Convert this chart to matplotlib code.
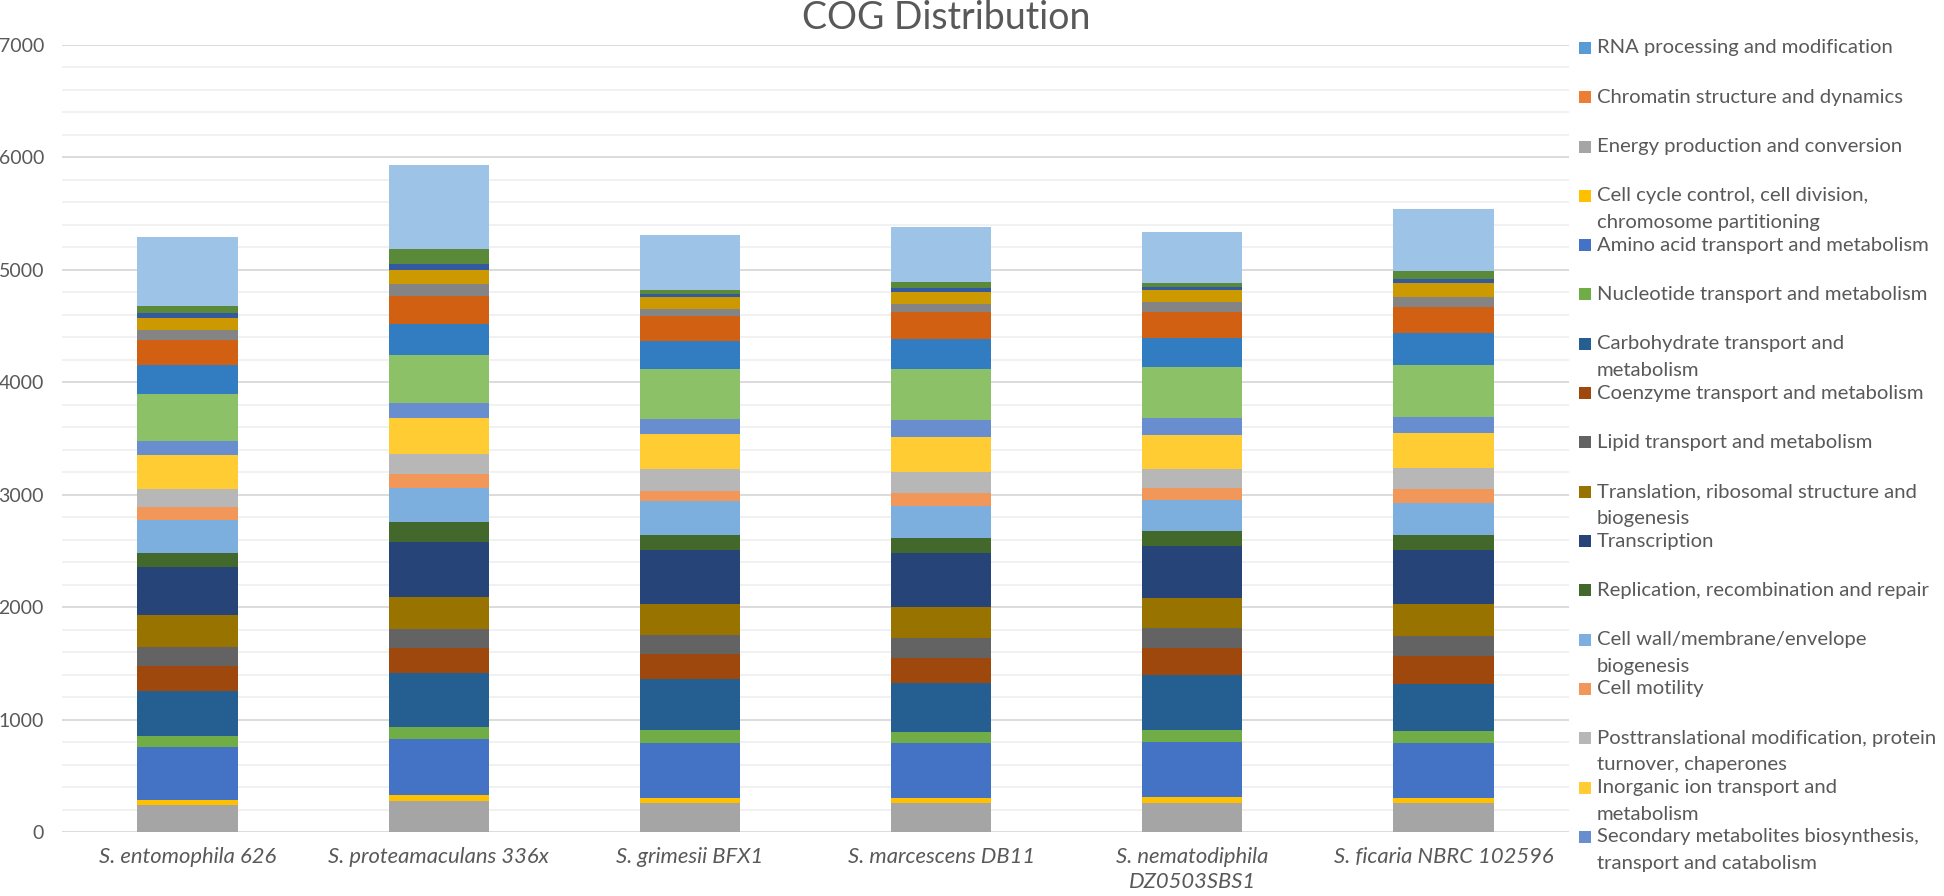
import numpy as np
import matplotlib.pyplot as plt
from matplotlib.patches import Rectangle
from matplotlib.ticker import MultipleLocator

plt.rcParams['font.family'] = ['Lato', 'DejaVu Sans']

# strains on the x axis
strains = ['S. entomophila 626', 'S. proteamaculans 336x', 'S. grimesii BFX1',
           'S. marcescens DB11', 'S. nematodiphila\nDZ0503SBS1', 'S. ficaria NBRC 102596']

# COG categories, in stacking order (bottom -> top)
cog_names = ['RNA processing and modification', 'Chromatin structure and dynamics',
             'Energy production and conversion',
             'Cell cycle control, cell division, chromosome partitioning',
             'Amino acid transport and metabolism', 'Nucleotide transport and metabolism',
             'Carbohydrate transport and metabolism', 'Coenzyme transport and metabolism',
             'Lipid transport and metabolism', 'Translation, ribosomal structure and biogenesis',
             'Transcription', 'Replication, recombination and repair',
             'Cell wall/membrane/envelope biogenesis', 'Cell motility',
             'Posttranslational modification, protein turnover, chaperones',
             'Inorganic ion transport and metabolism',
             'Secondary metabolites biosynthesis, transport and catabolism',
             'General function prediction only', 'Function unknown',
             'Signal transduction mechanisms',
             'Intracellular trafficking, secretion, and vesicular transport',
             'Defense mechanisms', 'Extracellular structures', 'Mobilome: prophages, transposons',
             'Not in COGs']

# gene counts per COG category, one list per strain
entomophila = [1, 0, 237, 45, 471, 101, 395, 225, 169, 282, 433, 127, 288, 113, 163, 302,
               129, 419, 251, 226, 89, 110, 38, 68, 608]
proteamaculans = [1, 0, 273, 53, 501, 110, 477, 220, 169, 285, 489, 178, 306, 124, 178, 322,
                  131, 424, 281, 249, 107, 124, 48, 134, 752]
grimesii = [1, 0, 258, 47, 490, 115, 451, 223, 166, 279, 477, 136, 303, 86, 193, 316,
            136, 439, 252, 225, 57, 112, 24, 36, 486]
marcescens = [1, 0, 255, 50, 487, 97, 434, 228, 175, 276, 482, 131, 287, 116, 181, 317,
              149, 450, 270, 237, 74, 107, 39, 47, 495]
nematodiphila = [1, 0, 261, 50, 492, 104, 489, 244, 172, 272, 460, 130, 282, 101, 172, 305,
                 143, 456, 261, 234, 83, 110, 29, 30, 454]
ficaria = [1, 0, 255, 45, 493, 100, 425, 250, 175, 282, 483, 134, 284, 125, 186, 314,
           143, 463, 281, 234, 89, 122, 36, 74, 545]

# Excel default palette, 25 series
colors = ['#5B9BD5', '#ED7D31', '#A5A5A5', '#FFC000', '#4472C4', '#70AD47', '#255E91',
          '#9E480E', '#636363', '#997300', '#264478', '#43682B', '#7CAFDD', '#F1975A',
          '#B7B7B7', '#FFCD33', '#698ED0', '#8CC168', '#327DC2', '#D26012', '#848484',
          '#CC9A00', '#335AA1', '#5A8A39', '#9DC3E6']

# only the first 17 fit in the legend box of the original
legend_labels = ['RNA processing and modification', 'Chromatin structure and dynamics',
                 'Energy production and conversion',
                 'Cell cycle control, cell division,\nchromosome partitioning',
                 'Amino acid transport and metabolism', 'Nucleotide transport and metabolism',
                 'Carbohydrate transport and\nmetabolism', 'Coenzyme transport and metabolism',
                 'Lipid transport and metabolism',
                 'Translation, ribosomal structure and\nbiogenesis',
                 'Transcription', 'Replication, recombination and repair',
                 'Cell wall/membrane/envelope\nbiogenesis', 'Cell motility',
                 'Posttranslational modification, protein\nturnover, chaperones',
                 'Inorganic ion transport and\nmetabolism',
                 'Secondary metabolites biosynthesis,\ntransport and catabolism']

counts = np.array([entomophila, proteamaculans, grimesii, marcescens, nematodiphila, ficaria]).T

W, H = 1944, 896
fig = plt.figure(figsize=(W / 100, H / 100), dpi=100)
ax = fig.add_axes([62 / W, 1 - 832 / H, (1569 - 62) / W, (832 - 45) / H])

txt = '#595959'
x = np.arange(len(strains))
bottom = np.zeros(len(strains))
for i in range(len(cog_names)):
    ax.bar(x, counts[i], 0.4, bottom=bottom, color=colors[i], linewidth=0,
           label=cog_names[i], zorder=3)
    bottom += counts[i]

ax.set_xlim(-0.5, len(strains) - 0.5)
ax.set_ylim(0, 7000)
ax.yaxis.set_major_locator(MultipleLocator(1000))
ax.yaxis.set_minor_locator(MultipleLocator(200))
ax.grid(axis='y', which='major', color='#D9D9D9', linewidth=1.3, zorder=0)
ax.grid(axis='y', which='minor', color='#F0F0F0', linewidth=1.3, zorder=0)
for s in ax.spines.values():
    s.set_visible(False)
ax.tick_params(axis='both', which='both', length=0)
ax.tick_params(axis='y', pad=13, labelsize=14, labelcolor=txt)
ax.tick_params(axis='x', pad=11, labelsize=15.8, labelcolor=txt)
ax.set_xticks(x)
ax.set_xticklabels(strains, fontstyle='italic', linespacing=1.3)
for lab in ax.get_xticklabels():
    lab.set_verticalalignment('top')

fig.text(946 / W, 1 - 18 / H, 'COG Distribution', fontsize=27, color=txt,
         ha='center', va='center')

# legend, drawn by hand to keep Excel's fixed row pitch
for i, lab in enumerate(legend_labels):
    yc = 48 + i * 49.3
    fig.patches.append(Rectangle((1579 / W, 1 - (yc + 6) / H), 12 / W, 12 / H,
                                 transform=fig.transFigure, facecolor=colors[i],
                                 edgecolor='none'))
    for j, line in enumerate(lab.split('\n')):
        fig.text(1597 / W, 1 - (yc + j * 26.5) / H, line, fontsize=14.6, color=txt,
                 ha='left', va='center')

fig.savefig('out.png', dpi=100, facecolor='white')
